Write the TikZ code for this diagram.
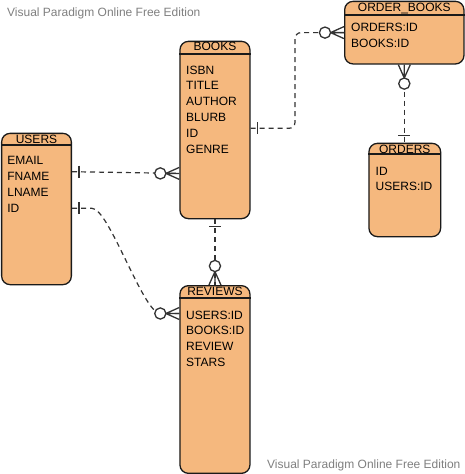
\documentclass[tikz,border=0pt]{standalone}
\usepackage{fontspec}
\setmainfont{Liberation Sans}
\usetikzlibrary{calc}
\definecolor{entfill}{HTML}{F5B87E}
\definecolor{entline}{HTML}{1A1A1A}
\definecolor{conn}{HTML}{333333}
\definecolor{wmgray}{HTML}{808080}
\newcommand\mkone[2]{\begin{scope}[shift={(#1)},rotate=#2]\draw[mk] (7,-6) -- (7,6);\end{scope}}
\newcommand\mkzm[2]{\begin{scope}[shift={(#1)},rotate=#2]\draw[mk] (0,6) -- (13.4,0) -- (0,-6) (0,0) -- (13.4,0);\draw[mk,fill=white] (19,0) circle (5.6pt);\end{scope}}
\begin{document}
\begin{tikzpicture}[x=1pt,y=-1pt,
  entity/.style={draw=entline,fill=entfill,line width=1.3pt,rounded corners=8.5pt,anchor=north west,inner sep=0pt},
  hdr/.style={draw=entline,line width=1.2pt},
  ttl/.style={font=\fontsize{12}{14}\selectfont,anchor=base,inner sep=0pt},
  attr/.style={font=\fontsize{12}{14}\selectfont,anchor=base west,inner sep=0pt},
  link/.style={draw=conn,line width=1.2pt,dash pattern=on 5pt off 4pt},
  mk/.style={draw=conn,line width=1.3pt},
  wm/.style={font=\fontsize{12}{14}\selectfont,text=wmgray,anchor=base west,inner sep=0pt}]
\useasboundingbox (0,0) rectangle (464,474);
\fill[white] (0,0) rectangle (464,474);

% entities
\node[entity,minimum width=69.7pt,minimum height=151.3pt] (users) at (1,132.7) {};
\node[entity,minimum width=70pt,minimum height=177.3pt] (books) at (179.3,40.7) {};
\node[entity,minimum width=119.3pt,minimum height=62.6pt] (ob) at (344,0.7) {};
\node[entity,minimum width=71.7pt,minimum height=93.3pt] (orders) at (368.3,142.7) {};
\node[entity,minimum width=70pt,minimum height=187.7pt] (reviews) at (179.3,285) {};

\draw[hdr] (users.west |- 0,145) -- (users.east |- 0,145);
\draw[hdr] (books.west |- 0,54) -- (books.east |- 0,54);
\draw[hdr] (ob.west |- 0,15) -- (ob.east |- 0,15);
\draw[hdr] (orders.west |- 0,154) -- (orders.east |- 0,154);
\draw[hdr] (reviews.west |- 0,298) -- (reviews.east |- 0,298);

\node[ttl] (users-t) at (users.north |- 0,143.3) {USERS};
\node[ttl] (books-t) at (books.north |- 0,50.7) {BOOKS};
\node[ttl] (ob-t) at (ob.north |- 0,11.6) {ORDER\_BOOKS};
\node[ttl] (orders-t) at (orders.north |- 0,153.3) {ORDERS};
\node[ttl] (reviews-t) at (reviews.north |- 0,295.5) {REVIEWS};

\foreach \t [count=\i] in {EMAIL,FNAME,LNAME,ID}
  \node[attr] (users-a\i) at (7.2,148+16*\i) {\t};
\foreach \t [count=\i] in {ISBN,TITLE,AUTHOR,BLURB,ID,GENRE}
  \node[attr] (books-a\i) at (186,58.1+15.9*\i) {\t};
\foreach \t [count=\i] in {ORDERS:ID,BOOKS:ID}
  \node[attr] (ob-a\i) at (351,15.7+16*\i) {\t};
\foreach \t [count=\i] in {ID,USERS:ID}
  \node[attr] (orders-a\i) at (375.5,159.2+15.8*\i) {\t};
\foreach \t [count=\i] in {USERS:ID,BOOKS:ID,REVIEW,STARS}
  \node[attr] (reviews-a\i) at (186,303.2+15.8*\i) {\t};

% connection end points
\coordinate (uf) at (users.east |- 0,171.7);
\coordinate (bl) at (books.west |- 0,173.4);
\coordinate (ui) at (users.east |- 0,208.3);
\coordinate (rl) at (reviews.west |- 0,313.5);
\coordinate (bs) at (books.south);
\coordinate (rt) at (reviews.north);
\coordinate (br) at (books.east |- 0,128.3);
\coordinate (ol) at (ob.west |- 0,32.6);
\coordinate (os) at (ob.south);
\coordinate (ort) at (orders.north -| os);
\coordinate (bend) at (295,32.6);
\coordinate (rc) at ($(rl)+(-19,0)$);

% connectors
\draw[link] (uf) -- (bl);
\draw[link] (ui) -- ++(20,0) .. controls +(17,0) and +(-17,0) .. (rc) -- (rl);
\draw[link] (bs) -- (rt);
\draw[link,rounded corners=6pt] (br) -| (bend) -- (ol);
\draw[link] (os) -- (ort);

% markers
\mkone{uf}{0}
\mkzm{bl}{180}
\mkone{ui}{0}
\mkzm{rl}{180}
\mkone{bs}{270}
\mkzm{rt}{90}
\mkone{br}{0}
\mkzm{ol}{180}
\mkzm{os}{270}
\mkone{ort}{90}

% watermarks
\node[wm] (wm1) at (7,16) {Visual Paradigm Online Free Edition};
\node[wm] (wm2) at (267,468.7) {Visual Paradigm Online Free Edition};
\end{tikzpicture}
\end{document}
